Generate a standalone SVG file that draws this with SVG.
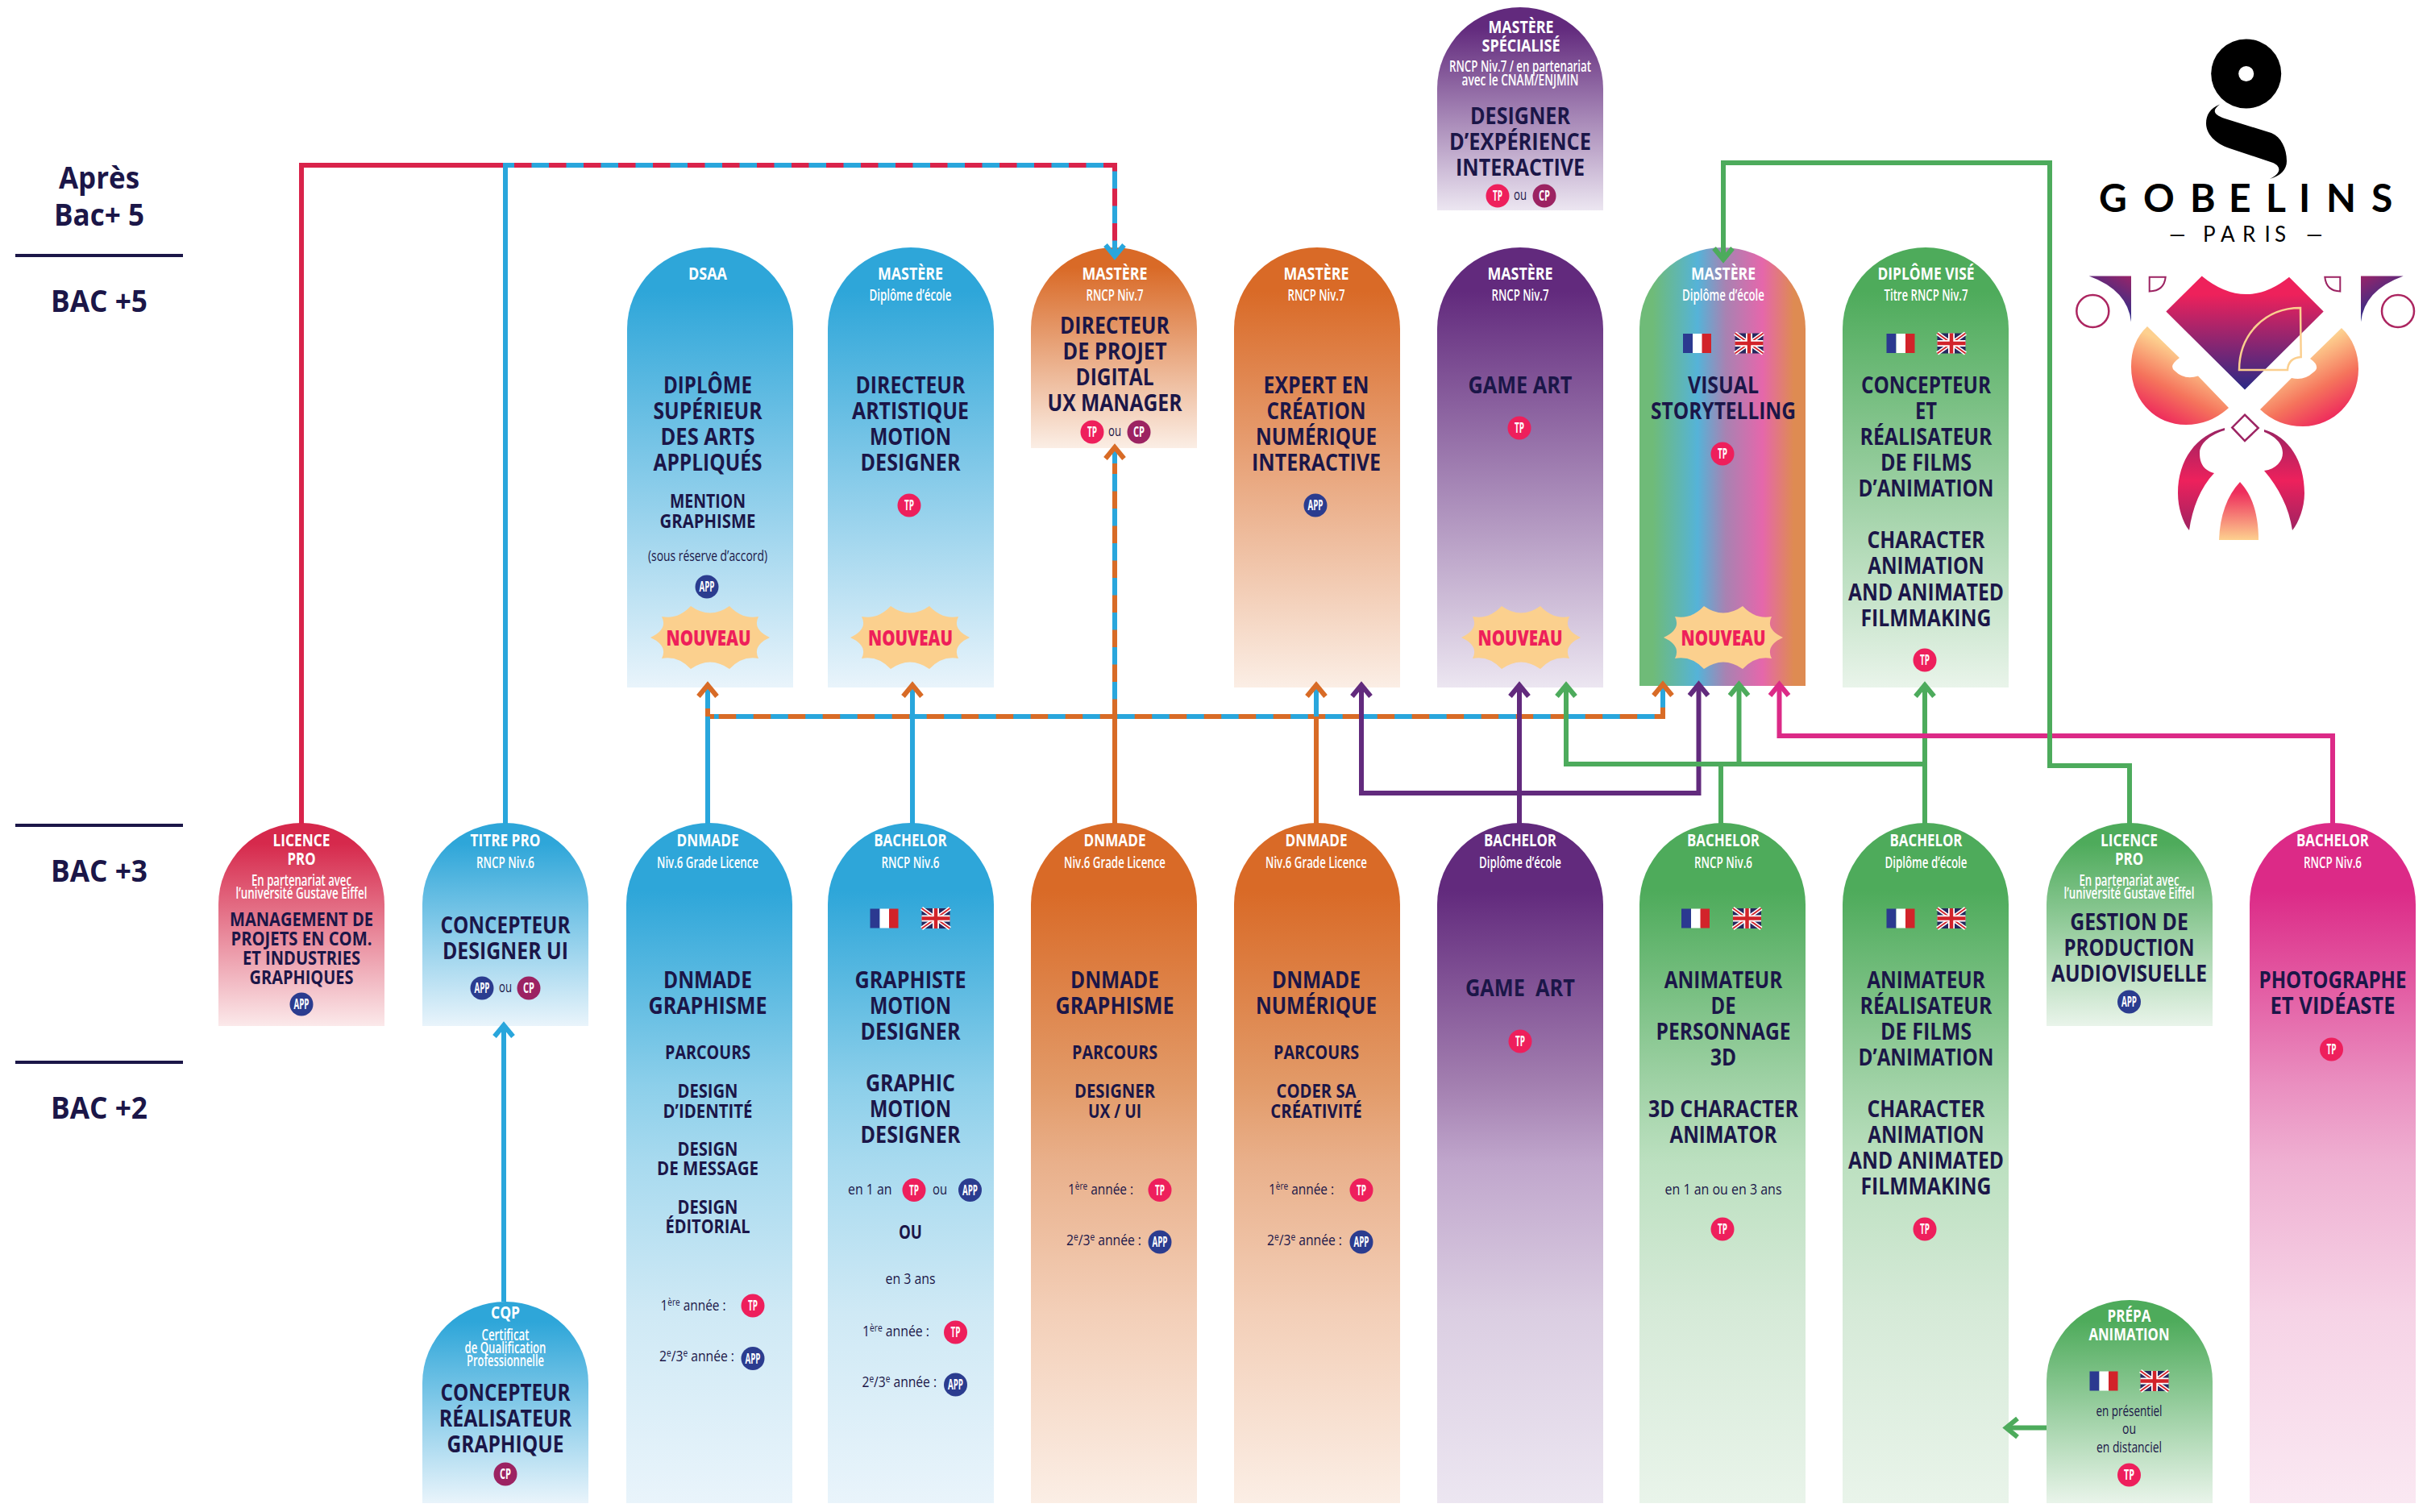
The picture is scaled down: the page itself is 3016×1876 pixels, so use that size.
<svg xmlns="http://www.w3.org/2000/svg" width="3016" height="1876" viewBox="0 0 3016 1876">
<style>
text{font-family:"Open Sans","Noto Sans","Liberation Sans",sans-serif;text-anchor:middle}
.l{font-size:37px;font-weight:700;fill:#1b1648}
.t{font-size:28px;font-weight:700;fill:#1b1648}
.s{font-size:23.5px;font-weight:700;fill:#1b1648}
.h{font-size:22px;font-weight:700;fill:#fff}
.u{font-size:19.5px;font-weight:600;fill:#fff}
.n{font-size:18.5px;font-weight:400;fill:#1b1648}
.st{text-anchor:start}
.bt{font-size:18px;font-weight:700;fill:#fff}
.nv{font-size:27px;font-weight:800;fill:#ee1f5a}
.tp{fill:#ee1f5c}.app{fill:#2b3c8f}.cp{fill:#9c2362}
.burst{fill:#fbd08e}
.cn path{fill:none;stroke-width:6}
.bl{stroke:#29a6dc}.rd{stroke:#d9234a}.or{stroke:#d86b26}.pu{stroke:#622a7d}.gr{stroke:#4dab5c}.pk{stroke:#dc2a87}
.d{stroke-dasharray:21.5 21.5}
</style>
<defs>
<linearGradient id="gBlue" x1="0" y1="0" x2="0" y2="1"><stop offset=".1" stop-color="#2ea6d9"/><stop offset="1" stop-color="#e9f4fb"/></linearGradient>
<linearGradient id="gOrange" x1="0" y1="0" x2="0" y2="1"><stop offset=".1" stop-color="#d96a27"/><stop offset="1" stop-color="#fbeee5"/></linearGradient>
<linearGradient id="gPurple" x1="0" y1="0" x2="0" y2="1"><stop offset=".1" stop-color="#622a7d"/><stop offset="1" stop-color="#ece6f1"/></linearGradient>
<linearGradient id="gGreen" x1="0" y1="0" x2="0" y2="1"><stop offset=".1" stop-color="#4eab5b"/><stop offset="1" stop-color="#e9f4ea"/></linearGradient>
<linearGradient id="gRed" x1="0" y1="0" x2="0" y2="1"><stop offset=".1" stop-color="#d6294c"/><stop offset="1" stop-color="#fbe9ea"/></linearGradient>
<linearGradient id="tBlue" x1="0" y1="0" x2="0" y2="1"><stop offset=".1" stop-color="#2ea6d9"/><stop offset=".385" stop-color="#8ccfea"/><stop offset=".5" stop-color="#a8daef"/><stop offset=".72" stop-color="#cfe9f5"/><stop offset="1" stop-color="#e9f4fb"/></linearGradient>
<linearGradient id="tOrange" x1="0" y1="0" x2="0" y2="1"><stop offset=".1" stop-color="#d96a27"/><stop offset=".385" stop-color="#e29a68"/><stop offset=".5" stop-color="#e9b08b"/><stop offset=".72" stop-color="#f3cfb8"/><stop offset="1" stop-color="#fbeee5"/></linearGradient>
<linearGradient id="tPurple" x1="0" y1="0" x2="0" y2="1"><stop offset=".1" stop-color="#622a7d"/><stop offset=".385" stop-color="#a37fb0"/><stop offset=".5" stop-color="#c0a6cc"/><stop offset=".72" stop-color="#dbcee2"/><stop offset="1" stop-color="#ece6f1"/></linearGradient>
<linearGradient id="tGreen" x1="0" y1="0" x2="0" y2="1"><stop offset=".1" stop-color="#4eab5b"/><stop offset=".385" stop-color="#a0d2a6"/><stop offset=".5" stop-color="#bce0c0"/><stop offset=".72" stop-color="#d6ead8"/><stop offset="1" stop-color="#e9f4ea"/></linearGradient>
<linearGradient id="tPink" x1="0" y1="0" x2="0" y2="1"><stop offset=".1" stop-color="#dc2a87"/><stop offset=".385" stop-color="#ea8fc0"/><stop offset=".5" stop-color="#efb0d2"/><stop offset=".72" stop-color="#f6d3e6"/><stop offset="1" stop-color="#fae8f2"/></linearGradient>
<linearGradient id="gRainbow" x1="0" y1="0" x2="1" y2="0"><stop offset=".08" stop-color="#6fbb78"/><stop offset=".35" stop-color="#55b3d8"/><stop offset=".52" stop-color="#a882b2"/><stop offset=".74" stop-color="#e567ab"/><stop offset=".93" stop-color="#de8b52"/></linearGradient>
<linearGradient id="eHeart" gradientUnits="userSpaceOnUse" x1="0" y1="365" x2="0" y2="483"><stop offset="0" stop-color="#ee215b"/><stop offset="1" stop-color="#2b2a86"/></linearGradient>
<linearGradient id="eCornerL" x1="1" y1="0" x2=".5" y2="1"><stop offset="0" stop-color="#9a2468"/><stop offset=".8" stop-color="#2b2f8c"/></linearGradient>
<linearGradient id="eCornerR" x1="0" y1="0" x2=".5" y2="1"><stop offset="0" stop-color="#9a2468"/><stop offset=".8" stop-color="#2b2f8c"/></linearGradient>
<linearGradient id="eFanL" gradientUnits="userSpaceOnUse" x1="2682" y1="520" x2="2722" y2="445"><stop offset="0" stop-color="#ee2d5c"/><stop offset=".45" stop-color="#f5745c"/><stop offset="1" stop-color="#fdd08f"/></linearGradient>
<linearGradient id="eFanR" gradientUnits="userSpaceOnUse" x1="2890" y1="520" x2="2846" y2="445"><stop offset="0" stop-color="#ee2d5c"/><stop offset=".45" stop-color="#f5745c"/><stop offset="1" stop-color="#fdd08f"/></linearGradient>
<linearGradient id="eCres" gradientUnits="userSpaceOnUse" x1="0" y1="533" x2="0" y2="660"><stop offset="0" stop-color="#9c2362"/><stop offset=".5" stop-color="#ed215c"/><stop offset="1" stop-color="#9c2362"/></linearGradient>
<linearGradient id="eFlame" gradientUnits="userSpaceOnUse" x1="0" y1="610" x2="0" y2="670"><stop offset="0" stop-color="#ee2d5c"/><stop offset="1" stop-color="#fdd08f"/></linearGradient>
<path id="burst" class="burst" d="M74,0Q52,-10 60,-26Q40,-22 24,-39Q0,-22 -24,-39Q-40,-22 -60,-26Q-52,-10 -74,0Q-52,10 -60,26Q-40,22 -24,39Q0,22 24,39Q40,22 60,26Q52,10 74,0Z"/>
<g id="fr"><rect x="-17.5" y="-12" width="12" height="24" fill="#2b3990"/><rect x="-5.5" y="-12" width="12" height="24" fill="#fff"/><rect x="6" y="-12" width="11.5" height="24" fill="#d2232a"/></g>
<g id="uk"><rect x="-17.5" y="-12.5" width="35" height="25" fill="#27285f"/><path d="M-17.5,-12.5L17.5,12.5M17.5,-12.5L-17.5,12.5" stroke="#fff" stroke-width="5"/><path d="M-17.5,-12.5L17.5,12.5M17.5,-12.5L-17.5,12.5" stroke="#d2232a" stroke-width="1.8"/><path d="M0,-12.5V12.5M-17.5,0H17.5" stroke="#fff" stroke-width="8"/><path d="M0,-12.5V12.5M-17.5,0H17.5" stroke="#d2232a" stroke-width="4.5"/></g>
<marker id="mBl" markerUnits="userSpaceOnUse" orient="auto" overflow="visible" markerWidth="30" markerHeight="30" refX="0" refY="0"><path d="M-14,-11.5L0,0L-14,11.5" fill="none" stroke="#29a6dc" stroke-width="6"/></marker>
<marker id="mOr" markerUnits="userSpaceOnUse" orient="auto" overflow="visible" markerWidth="30" markerHeight="30" refX="0" refY="0"><path d="M-14,-11.5L0,0L-14,11.5" fill="none" stroke="#d86b26" stroke-width="6"/></marker>
<marker id="mPu" markerUnits="userSpaceOnUse" orient="auto" overflow="visible" markerWidth="30" markerHeight="30" refX="0" refY="0"><path d="M-14,-11.5L0,0L-14,11.5" fill="none" stroke="#622a7d" stroke-width="6"/></marker>
<marker id="mGr" markerUnits="userSpaceOnUse" orient="auto" overflow="visible" markerWidth="30" markerHeight="30" refX="0" refY="0"><path d="M-14,-11.5L0,0L-14,11.5" fill="none" stroke="#4dab5c" stroke-width="6"/></marker>
<marker id="mPk" markerUnits="userSpaceOnUse" orient="auto" overflow="visible" markerWidth="30" markerHeight="30" refX="0" refY="0"><path d="M-14,-11.5L0,0L-14,11.5" fill="none" stroke="#dc2a87" stroke-width="6"/></marker>
</defs>
<rect width="3016" height="1876" fill="#fff"/>

<g id="levels">
<text class="l" x="123" y="234" textLength="100" lengthAdjust="spacingAndGlyphs">Après</text>
<text class="l" x="123" y="280" textLength="112" lengthAdjust="spacingAndGlyphs">Bac+ 5</text>
<text class="l" x="123" y="387" textLength="120" lengthAdjust="spacingAndGlyphs">BAC +5</text>
<text class="l" x="123" y="1094" textLength="120" lengthAdjust="spacingAndGlyphs">BAC +3</text>
<text class="l" x="123" y="1388" textLength="120" lengthAdjust="spacingAndGlyphs">BAC +2</text>
<path d="M19,317H227M19,1024H227M19,1318H227" stroke="#1b1648" stroke-width="4" fill="none"/>
</g>

<g id="n-dsaa">
<path d="M778,853V408A103,101 0 0 1 984,408V853Z" fill="url(#gBlue)"/>
<text class="h" x="878" y="347" textLength="48" lengthAdjust="spacingAndGlyphs">DSAA</text>
<text class="t" x="878" y="488" textLength="110" lengthAdjust="spacingAndGlyphs">DIPLÔME</text>
<text class="t" x="878" y="520" textLength="135" lengthAdjust="spacingAndGlyphs">SUPÉRIEUR</text>
<text class="t" x="878" y="552" textLength="117" lengthAdjust="spacingAndGlyphs">DES ARTS</text>
<text class="t" x="878" y="584" textLength="135" lengthAdjust="spacingAndGlyphs">APPLIQUÉS</text>
<text class="s" x="878" y="630" textLength="94" lengthAdjust="spacingAndGlyphs">MENTION</text>
<text class="s" x="878" y="655" textLength="119" lengthAdjust="spacingAndGlyphs">GRAPHISME</text>
<text class="n" x="878" y="696" textLength="148" lengthAdjust="spacingAndGlyphs">(sous réserve d’accord)</text>
<circle class="app" cx="877" cy="728" r="14.5"/><text class="bt" x="877" y="734" textLength="19" lengthAdjust="spacingAndGlyphs">APP</text>
<use href="#burst" x="881" y="791"/>
<text class="nv" x="879" y="801" textLength="105" lengthAdjust="spacingAndGlyphs">NOUVEAU</text>
</g>

<g id="n-master-motion">
<path d="M1027,853V408A103,101 0 0 1 1233,408V853Z" fill="url(#gBlue)"/>
<text class="h" x="1129.500" y="347" textLength="81" lengthAdjust="spacingAndGlyphs">MASTÈRE</text>
<text class="u" x="1129.500" y="373" textLength="102" lengthAdjust="spacingAndGlyphs">Diplôme d’école</text>
<text class="t" x="1129.500" y="488" textLength="136" lengthAdjust="spacingAndGlyphs">DIRECTEUR</text>
<text class="t" x="1129.500" y="520" textLength="145" lengthAdjust="spacingAndGlyphs">ARTISTIQUE</text>
<text class="t" x="1129.500" y="552" textLength="101" lengthAdjust="spacingAndGlyphs">MOTION</text>
<text class="t" x="1129.500" y="584" textLength="124" lengthAdjust="spacingAndGlyphs">DESIGNER</text>
<circle class="tp" cx="1128" cy="627" r="14.5"/><text class="bt" x="1128" y="633" textLength="12" lengthAdjust="spacingAndGlyphs">TP</text>
<use href="#burst" x="1129" y="791"/>
<text class="nv" x="1129.500" y="801" textLength="105" lengthAdjust="spacingAndGlyphs">NOUVEAU</text>
</g>

<g id="n-master-ux">
<path d="M1279,556V408A103,101 0 0 1 1485,408V556Z" fill="url(#gOrange)"/>
<text class="h" x="1383" y="347" textLength="81" lengthAdjust="spacingAndGlyphs">MASTÈRE</text>
<text class="u" x="1383" y="373" textLength="71" lengthAdjust="spacingAndGlyphs">RNCP Niv.7</text>
<text class="t" x="1383" y="414" textLength="136" lengthAdjust="spacingAndGlyphs">DIRECTEUR</text>
<text class="t" x="1383" y="446" textLength="129" lengthAdjust="spacingAndGlyphs">DE PROJET</text>
<text class="t" x="1383" y="478" textLength="97" lengthAdjust="spacingAndGlyphs">DIGITAL</text>
<text class="t" x="1383" y="510" textLength="167" lengthAdjust="spacingAndGlyphs">UX MANAGER</text>
<circle class="tp" cx="1355" cy="536" r="14.5"/><text class="bt" x="1355" y="542" textLength="12" lengthAdjust="spacingAndGlyphs">TP</text>
<text class="n" x="1383" y="541" textLength="16" lengthAdjust="spacingAndGlyphs">ou</text>
<circle class="cp" cx="1413" cy="536" r="14.500"/><text class="bt" x="1413" y="542" textLength="14" lengthAdjust="spacingAndGlyphs">CP</text>
</g>

<g id="n-master-cni">
<path d="M1531,853V408A103,101 0 0 1 1737,408V853Z" fill="url(#gOrange)"/>
<text class="h" x="1633" y="347" textLength="81" lengthAdjust="spacingAndGlyphs">MASTÈRE</text>
<text class="u" x="1633" y="373" textLength="71" lengthAdjust="spacingAndGlyphs">RNCP Niv.7</text>
<text class="t" x="1633" y="488" textLength="131" lengthAdjust="spacingAndGlyphs">EXPERT EN</text>
<text class="t" x="1633" y="520" textLength="123" lengthAdjust="spacingAndGlyphs">CRÉATION</text>
<text class="t" x="1633" y="552" textLength="150" lengthAdjust="spacingAndGlyphs">NUMÉRIQUE</text>
<text class="t" x="1633" y="584" textLength="160" lengthAdjust="spacingAndGlyphs">INTERACTIVE</text>
<circle class="app" cx="1632" cy="627" r="14.5"/><text class="bt" x="1632" y="633" textLength="19" lengthAdjust="spacingAndGlyphs">APP</text>
</g>

<g id="n-master-specialise">
<path d="M1783,261V110A103,101 0 0 1 1989,110V261Z" fill="url(#gPurple)"/>
<text class="h" x="1887" y="41" textLength="81" lengthAdjust="spacingAndGlyphs">MASTÈRE</text>
<text class="h" x="1887" y="64" textLength="97" lengthAdjust="spacingAndGlyphs">SPÉCIALISÉ</text>
<text class="u" x="1886" y="89" textLength="176" lengthAdjust="spacingAndGlyphs">RNCP Niv.7 / en partenariat</text>
<text class="u" x="1886" y="105.500" textLength="145" lengthAdjust="spacingAndGlyphs">avec le CNAM/ENJMIN</text>
<text class="t" x="1886" y="154" textLength="124" lengthAdjust="spacingAndGlyphs">DESIGNER</text>
<text class="t" x="1886" y="186" textLength="176" lengthAdjust="spacingAndGlyphs">D’EXPÉRIENCE</text>
<text class="t" x="1886" y="218" textLength="160" lengthAdjust="spacingAndGlyphs">INTERACTIVE</text>
<circle class="tp" cx="1858" cy="243" r="14.5"/><text class="bt" x="1858" y="249" textLength="12" lengthAdjust="spacingAndGlyphs">TP</text>
<text class="n" x="1886" y="248" textLength="16" lengthAdjust="spacingAndGlyphs">ou</text>
<circle class="cp" cx="1916" cy="243" r="14.5"/><text class="bt" x="1916" y="249" textLength="14" lengthAdjust="spacingAndGlyphs">CP</text>
</g>

<g id="n-master-gameart">
<path d="M1783,853V408A103,101 0 0 1 1989,408V853Z" fill="url(#gPurple)"/>
<text class="h" x="1886" y="347" textLength="81" lengthAdjust="spacingAndGlyphs">MASTÈRE</text>
<text class="u" x="1886" y="373" textLength="71" lengthAdjust="spacingAndGlyphs">RNCP Niv.7</text>
<text class="t" x="1886" y="488" textLength="129" lengthAdjust="spacingAndGlyphs">GAME ART</text>
<circle class="tp" cx="1885" cy="531" r="14.5"/><text class="bt" x="1885" y="537" textLength="12" lengthAdjust="spacingAndGlyphs">TP</text>
<use href="#burst" x="1887" y="791"/>
<text class="nv" x="1886" y="801" textLength="105" lengthAdjust="spacingAndGlyphs">NOUVEAU</text>
</g>

<g id="n-master-visual">
<path d="M2034,851V408A103,101 0 0 1 2240,408V851Z" fill="url(#gRainbow)"/>
<text class="h" x="2138" y="347" textLength="80" lengthAdjust="spacingAndGlyphs">MASTÈRE</text>
<text class="u" x="2138" y="373" textLength="102" lengthAdjust="spacingAndGlyphs">Diplôme d’école</text>
<use href="#fr" x="2105.500" y="426"/><use href="#uk" x="2170" y="426"/>
<text class="t" x="2138" y="488" textLength="88" lengthAdjust="spacingAndGlyphs">VISUAL</text>
<text class="t" x="2138" y="520" textLength="180" lengthAdjust="spacingAndGlyphs">STORYTELLING</text>
<circle class="tp" cx="2137" cy="563" r="14.5"/><text class="bt" x="2137" y="569" textLength="12" lengthAdjust="spacingAndGlyphs">TP</text>
<use href="#burst" x="2138" y="791"/>
<text class="nv" x="2138" y="801" textLength="105" lengthAdjust="spacingAndGlyphs">NOUVEAU</text>
</g>

<g id="n-diplome-vise">
<path d="M2286,853V408A103,101 0 0 1 2492,408V853Z" fill="url(#gGreen)"/>
<text class="h" x="2389.500" y="347" textLength="120" lengthAdjust="spacingAndGlyphs">DIPLÔME VISÉ</text>
<text class="u" x="2389.500" y="373" textLength="104" lengthAdjust="spacingAndGlyphs">Titre RNCP Niv.7</text>
<use href="#fr" x="2358" y="426"/><use href="#uk" x="2421" y="426"/>
<text class="t" x="2389.500" y="488" textLength="161" lengthAdjust="spacingAndGlyphs">CONCEPTEUR</text>
<text class="t" x="2389.500" y="520" textLength="27" lengthAdjust="spacingAndGlyphs">ET</text>
<text class="t" x="2389.500" y="552" textLength="164" lengthAdjust="spacingAndGlyphs">RÉALISATEUR</text>
<text class="t" x="2389.500" y="584" textLength="113" lengthAdjust="spacingAndGlyphs">DE FILMS</text>
<text class="t" x="2389.500" y="616" textLength="168" lengthAdjust="spacingAndGlyphs">D’ANIMATION</text>
<text class="t" x="2389.500" y="680" textLength="146" lengthAdjust="spacingAndGlyphs">CHARACTER</text>
<text class="t" x="2389.500" y="712" textLength="144.500" lengthAdjust="spacingAndGlyphs">ANIMATION</text>
<text class="t" x="2389.500" y="745" textLength="193" lengthAdjust="spacingAndGlyphs">AND ANIMATED</text>
<text class="t" x="2389.500" y="777" textLength="162" lengthAdjust="spacingAndGlyphs">FILMMAKING</text>
<circle class="tp" cx="2388" cy="819" r="14.5"/><text class="bt" x="2388" y="825" textLength="12" lengthAdjust="spacingAndGlyphs">TP</text>
</g>

<g id="n-licence-red">
<path d="M271,1273V1122A103,101 0 0 1 477,1122V1273Z" fill="url(#gRed)"/>
<text class="h" x="374" y="1050" textLength="71" lengthAdjust="spacingAndGlyphs">LICENCE</text>
<text class="h" x="374" y="1073" textLength="35" lengthAdjust="spacingAndGlyphs">PRO</text>
<text class="u" x="374" y="1099" textLength="124" lengthAdjust="spacingAndGlyphs">En partenariat avec</text>
<text class="u" x="374" y="1115" textLength="163" lengthAdjust="spacingAndGlyphs">l’université Gustave Eiffel</text>
<text class="s" x="374" y="1148.500" textLength="178" lengthAdjust="spacingAndGlyphs">MANAGEMENT DE</text>
<text class="s" x="374" y="1172.500" textLength="175" lengthAdjust="spacingAndGlyphs">PROJETS EN COM.</text>
<text class="s" x="374" y="1196.500" textLength="146" lengthAdjust="spacingAndGlyphs">ET INDUSTRIES</text>
<text class="s" x="374" y="1220.500" textLength="129" lengthAdjust="spacingAndGlyphs">GRAPHIQUES</text>
<circle class="app" cx="374" cy="1246" r="14.5"/><text class="bt" x="374" y="1252" textLength="19" lengthAdjust="spacingAndGlyphs">APP</text>
</g>

<g id="n-titre-pro">
<path d="M524,1273V1122A103,101 0 0 1 730,1122V1273Z" fill="url(#gBlue)"/>
<text class="h" x="627" y="1050" textLength="87" lengthAdjust="spacingAndGlyphs">TITRE PRO</text>
<text class="u" x="627" y="1076.500" textLength="72" lengthAdjust="spacingAndGlyphs">RNCP Niv.6</text>
<text class="t" x="627" y="1158" textLength="161" lengthAdjust="spacingAndGlyphs">CONCEPTEUR</text>
<text class="t" x="627" y="1190" textLength="156" lengthAdjust="spacingAndGlyphs">DESIGNER UI</text>
<circle class="app" cx="598" cy="1226" r="14.5"/><text class="bt" x="598" y="1232" textLength="19" lengthAdjust="spacingAndGlyphs">APP</text>
<text class="n" x="627" y="1231" textLength="16" lengthAdjust="spacingAndGlyphs">ou</text>
<circle class="cp" cx="656" cy="1226" r="14.5"/><text class="bt" x="656" y="1232" textLength="14" lengthAdjust="spacingAndGlyphs">CP</text>
</g>

<g id="n-cqp">
<path d="M524,1865V1716A103,101 0 0 1 730,1716V1865Z" fill="url(#gBlue)"/>
<text class="h" x="627" y="1636" textLength="36" lengthAdjust="spacingAndGlyphs">CQP</text>
<text class="u" x="627" y="1662.500" textLength="59" lengthAdjust="spacingAndGlyphs">Certificat</text>
<text class="u" x="627" y="1678.500" textLength="101" lengthAdjust="spacingAndGlyphs">de Qualification</text>
<text class="u" x="627" y="1694.500" textLength="96" lengthAdjust="spacingAndGlyphs">Professionnelle</text>
<text class="t" x="627" y="1737.500" textLength="161" lengthAdjust="spacingAndGlyphs">CONCEPTEUR</text>
<text class="t" x="627" y="1770" textLength="164.500" lengthAdjust="spacingAndGlyphs">RÉALISATEUR</text>
<text class="t" x="627" y="1802" textLength="145" lengthAdjust="spacingAndGlyphs">GRAPHIQUE</text>
<circle class="cp" cx="627" cy="1829" r="14.5"/><text class="bt" x="627" y="1835" textLength="14" lengthAdjust="spacingAndGlyphs">CP</text>
</g>

<g id="n-dnmade-graphisme">
<path d="M777,1865V1122A103,101 0 0 1 983,1122V1865Z" fill="url(#tBlue)"/>
<text class="h" x="878" y="1050" textLength="77" lengthAdjust="spacingAndGlyphs">DNMADE</text>
<text class="u" x="878" y="1076.500" textLength="126" lengthAdjust="spacingAndGlyphs">Niv.6 Grade Licence</text>
<text class="t" x="878" y="1226" textLength="110" lengthAdjust="spacingAndGlyphs">DNMADE</text>
<text class="t" x="878" y="1258" textLength="147" lengthAdjust="spacingAndGlyphs">GRAPHISME</text>
<text class="s" x="878" y="1313.500" textLength="106" lengthAdjust="spacingAndGlyphs">PARCOURS</text>
<text class="s" x="878" y="1362" textLength="75" lengthAdjust="spacingAndGlyphs">DESIGN</text>
<text class="s" x="878" y="1386.500" textLength="111" lengthAdjust="spacingAndGlyphs">D’IDENTITÉ</text>
<text class="s" x="878" y="1434" textLength="75" lengthAdjust="spacingAndGlyphs">DESIGN</text>
<text class="s" x="878" y="1458" textLength="126" lengthAdjust="spacingAndGlyphs">DE MESSAGE</text>
<text class="s" x="878" y="1505.500" textLength="75" lengthAdjust="spacingAndGlyphs">DESIGN</text>
<text class="s" x="878" y="1529.500" textLength="105" lengthAdjust="spacingAndGlyphs">ÉDITORIAL</text>
<text class="n st" x="819.500" y="1625.500" textLength="81" lengthAdjust="spacingAndGlyphs">1<tspan font-size="12" dy="-6">ère</tspan><tspan dy="6"> année :</tspan></text>
<circle class="tp" cx="934" cy="1620" r="14.5"/><text class="bt" x="934" y="1626" textLength="12" lengthAdjust="spacingAndGlyphs">TP</text>
<text class="n st" x="818" y="1689" textLength="93" lengthAdjust="spacingAndGlyphs">2<tspan font-size="12" dy="-6">e</tspan><tspan dy="6">/3</tspan><tspan font-size="12" dy="-6">e</tspan><tspan dy="6"> année :</tspan></text>
<circle class="app" cx="934" cy="1685.500" r="14.5"/><text class="bt" x="934" y="1691.500" textLength="19" lengthAdjust="spacingAndGlyphs">APP</text>
</g>

<g id="n-bachelor-motion">
<path d="M1027,1865V1122A103,101 0 0 1 1233,1122V1865Z" fill="url(#tBlue)"/>
<text class="h" x="1129.500" y="1050" textLength="90.500" lengthAdjust="spacingAndGlyphs">BACHELOR</text>
<text class="u" x="1129.500" y="1076.500" textLength="72" lengthAdjust="spacingAndGlyphs">RNCP Niv.6</text>
<use href="#fr" x="1097" y="1139.500"/><use href="#uk" x="1161" y="1139.500"/>
<text class="t" x="1129.500" y="1226" textLength="138" lengthAdjust="spacingAndGlyphs">GRAPHISTE</text>
<text class="t" x="1129.500" y="1258" textLength="101" lengthAdjust="spacingAndGlyphs">MOTION</text>
<text class="t" x="1129.500" y="1290" textLength="124" lengthAdjust="spacingAndGlyphs">DESIGNER</text>
<text class="t" x="1129.500" y="1354" textLength="111" lengthAdjust="spacingAndGlyphs">GRAPHIC</text>
<text class="t" x="1129.500" y="1386" textLength="101" lengthAdjust="spacingAndGlyphs">MOTION</text>
<text class="t" x="1129.500" y="1418" textLength="124" lengthAdjust="spacingAndGlyphs">DESIGNER</text>
<text class="n st" x="1052" y="1481.500" textLength="54.500" lengthAdjust="spacingAndGlyphs">en 1 an</text>
<circle class="tp" cx="1134" cy="1476.500" r="14.5"/><text class="bt" x="1134" y="1482.500" textLength="12" lengthAdjust="spacingAndGlyphs">TP</text>
<text class="n" x="1166" y="1481.500" textLength="18" lengthAdjust="spacingAndGlyphs">ou</text>
<circle class="app" cx="1203.500" cy="1476.500" r="14.5"/><text class="bt" x="1203.500" y="1482.500" textLength="19" lengthAdjust="spacingAndGlyphs">APP</text>
<text class="s" x="1129.500" y="1537" textLength="29" lengthAdjust="spacingAndGlyphs">OU</text>
<text class="n" x="1129.500" y="1593" textLength="62" lengthAdjust="spacingAndGlyphs">en 3 ans</text>
<text class="n st" x="1070" y="1657.500" textLength="83" lengthAdjust="spacingAndGlyphs">1<tspan font-size="12" dy="-6">ère</tspan><tspan dy="6"> année :</tspan></text>
<circle class="tp" cx="1185.500" cy="1653" r="14.5"/><text class="bt" x="1185.500" y="1659" textLength="12" lengthAdjust="spacingAndGlyphs">TP</text>
<text class="n st" x="1069.500" y="1721" textLength="92.500" lengthAdjust="spacingAndGlyphs">2<tspan font-size="12" dy="-6">e</tspan><tspan dy="6">/3</tspan><tspan font-size="12" dy="-6">e</tspan><tspan dy="6"> année :</tspan></text>
<circle class="app" cx="1185.500" cy="1718" r="14.5"/><text class="bt" x="1185.500" y="1724" textLength="19" lengthAdjust="spacingAndGlyphs">APP</text>
</g>

<g id="n-dnmade-ux">
<path d="M1279,1865V1122A103,101 0 0 1 1485,1122V1865Z" fill="url(#tOrange)"/>
<text class="h" x="1383" y="1050" textLength="77" lengthAdjust="spacingAndGlyphs">DNMADE</text>
<text class="u" x="1383" y="1076.500" textLength="126" lengthAdjust="spacingAndGlyphs">Niv.6 Grade Licence</text>
<text class="t" x="1383" y="1226" textLength="110" lengthAdjust="spacingAndGlyphs">DNMADE</text>
<text class="t" x="1383" y="1258" textLength="147" lengthAdjust="spacingAndGlyphs">GRAPHISME</text>
<text class="s" x="1383" y="1313.500" textLength="106" lengthAdjust="spacingAndGlyphs">PARCOURS</text>
<text class="s" x="1383" y="1362" textLength="100" lengthAdjust="spacingAndGlyphs">DESIGNER</text>
<text class="s" x="1383" y="1386.500" textLength="66" lengthAdjust="spacingAndGlyphs">UX / UI</text>
<text class="n st" x="1325" y="1481.500" textLength="81" lengthAdjust="spacingAndGlyphs">1<tspan font-size="12" dy="-6">ère</tspan><tspan dy="6"> année :</tspan></text>
<circle class="tp" cx="1439" cy="1476.500" r="14.5"/><text class="bt" x="1439" y="1482.500" textLength="12" lengthAdjust="spacingAndGlyphs">TP</text>
<text class="n st" x="1323" y="1545" textLength="93" lengthAdjust="spacingAndGlyphs">2<tspan font-size="12" dy="-6">e</tspan><tspan dy="6">/3</tspan><tspan font-size="12" dy="-6">e</tspan><tspan dy="6"> année :</tspan></text>
<circle class="app" cx="1439" cy="1541" r="14.5"/><text class="bt" x="1439" y="1547" textLength="19" lengthAdjust="spacingAndGlyphs">APP</text>
</g>

<g id="n-dnmade-numerique">
<path d="M1531,1865V1122A103,101 0 0 1 1737,1122V1865Z" fill="url(#tOrange)"/>
<text class="h" x="1633" y="1050" textLength="77" lengthAdjust="spacingAndGlyphs">DNMADE</text>
<text class="u" x="1633" y="1076.500" textLength="126" lengthAdjust="spacingAndGlyphs">Niv.6 Grade Licence</text>
<text class="t" x="1633" y="1226" textLength="110" lengthAdjust="spacingAndGlyphs">DNMADE</text>
<text class="t" x="1633" y="1258" textLength="150" lengthAdjust="spacingAndGlyphs">NUMÉRIQUE</text>
<text class="s" x="1633" y="1313.500" textLength="106" lengthAdjust="spacingAndGlyphs">PARCOURS</text>
<text class="s" x="1633" y="1362" textLength="99" lengthAdjust="spacingAndGlyphs">CODER SA</text>
<text class="s" x="1633" y="1386.500" textLength="113.500" lengthAdjust="spacingAndGlyphs">CRÉATIVITÉ</text>
<text class="n st" x="1574" y="1481.500" textLength="81" lengthAdjust="spacingAndGlyphs">1<tspan font-size="12" dy="-6">ère</tspan><tspan dy="6"> année :</tspan></text>
<circle class="tp" cx="1689" cy="1476.500" r="14.5"/><text class="bt" x="1689" y="1482.500" textLength="12" lengthAdjust="spacingAndGlyphs">TP</text>
<text class="n st" x="1572" y="1545" textLength="93" lengthAdjust="spacingAndGlyphs">2<tspan font-size="12" dy="-6">e</tspan><tspan dy="6">/3</tspan><tspan font-size="12" dy="-6">e</tspan><tspan dy="6"> année :</tspan></text>
<circle class="app" cx="1689" cy="1541" r="14.5"/><text class="bt" x="1689" y="1547" textLength="19" lengthAdjust="spacingAndGlyphs">APP</text>
</g>

<g id="n-bachelor-gameart">
<path d="M1783,1865V1122A103,101 0 0 1 1989,1122V1865Z" fill="url(#tPurple)"/>
<text class="h" x="1886" y="1050" textLength="90" lengthAdjust="spacingAndGlyphs">BACHELOR</text>
<text class="u" x="1886" y="1076.500" textLength="102" lengthAdjust="spacingAndGlyphs">Diplôme d’école</text>
<text class="t" x="1886" y="1236" textLength="136" lengthAdjust="spacingAndGlyphs" xml:space="preserve">GAME  ART</text>
<circle class="tp" cx="1886" cy="1292" r="14.5"/><text class="bt" x="1886" y="1298" textLength="12" lengthAdjust="spacingAndGlyphs">TP</text>
</g>

<g id="n-bachelor-3d">
<path d="M2034,1865V1122A103,101 0 0 1 2240,1122V1865Z" fill="url(#tGreen)"/>
<text class="h" x="2138" y="1050" textLength="90" lengthAdjust="spacingAndGlyphs">BACHELOR</text>
<text class="u" x="2138" y="1076.500" textLength="72" lengthAdjust="spacingAndGlyphs">RNCP Niv.6</text>
<use href="#fr" x="2103.500" y="1139.500"/><use href="#uk" x="2167.500" y="1139.500"/>
<text class="t" x="2138" y="1226" textLength="146.500" lengthAdjust="spacingAndGlyphs">ANIMATEUR</text>
<text class="t" x="2138" y="1258" textLength="31" lengthAdjust="spacingAndGlyphs">DE</text>
<text class="t" x="2138" y="1290" textLength="167" lengthAdjust="spacingAndGlyphs">PERSONNAGE</text>
<text class="t" x="2138" y="1322" textLength="32" lengthAdjust="spacingAndGlyphs">3D</text>
<text class="t" x="2138" y="1386" textLength="186" lengthAdjust="spacingAndGlyphs">3D CHARACTER</text>
<text class="t" x="2138" y="1418" textLength="133" lengthAdjust="spacingAndGlyphs">ANIMATOR</text>
<text class="n" x="2138" y="1481.500" textLength="145" lengthAdjust="spacingAndGlyphs">en 1 an ou en 3 ans</text>
<circle class="tp" cx="2137" cy="1525" r="14.5"/><text class="bt" x="2137" y="1531" textLength="12" lengthAdjust="spacingAndGlyphs">TP</text>
</g>

<g id="n-bachelor-film">
<path d="M2286,1865V1122A103,101 0 0 1 2492,1122V1865Z" fill="url(#tGreen)"/>
<text class="h" x="2389.500" y="1050" textLength="90" lengthAdjust="spacingAndGlyphs">BACHELOR</text>
<text class="u" x="2389.500" y="1076.500" textLength="102" lengthAdjust="spacingAndGlyphs">Diplôme d’école</text>
<use href="#fr" x="2358" y="1139.500"/><use href="#uk" x="2421" y="1139.500"/>
<text class="t" x="2389.500" y="1226" textLength="146.500" lengthAdjust="spacingAndGlyphs">ANIMATEUR</text>
<text class="t" x="2389.500" y="1258" textLength="164" lengthAdjust="spacingAndGlyphs">RÉALISATEUR</text>
<text class="t" x="2389.500" y="1290" textLength="113" lengthAdjust="spacingAndGlyphs">DE FILMS</text>
<text class="t" x="2389.500" y="1322" textLength="168" lengthAdjust="spacingAndGlyphs">D’ANIMATION</text>
<text class="t" x="2389.500" y="1386" textLength="146" lengthAdjust="spacingAndGlyphs">CHARACTER</text>
<text class="t" x="2389.500" y="1418" textLength="144.500" lengthAdjust="spacingAndGlyphs">ANIMATION</text>
<text class="t" x="2389.500" y="1450" textLength="193" lengthAdjust="spacingAndGlyphs">AND ANIMATED</text>
<text class="t" x="2389.500" y="1482" textLength="162" lengthAdjust="spacingAndGlyphs">FILMMAKING</text>
<circle class="tp" cx="2388" cy="1525" r="14.5"/><text class="bt" x="2388" y="1531" textLength="12" lengthAdjust="spacingAndGlyphs">TP</text>
</g>

<g id="n-licence-green">
<path d="M2539,1273V1122A103,101 0 0 1 2745,1122V1273Z" fill="url(#gGreen)"/>
<text class="h" x="2641.500" y="1050" textLength="71" lengthAdjust="spacingAndGlyphs">LICENCE</text>
<text class="h" x="2641.500" y="1073" textLength="35" lengthAdjust="spacingAndGlyphs">PRO</text>
<text class="u" x="2641.500" y="1099" textLength="124" lengthAdjust="spacingAndGlyphs">En partenariat avec</text>
<text class="u" x="2641.500" y="1115" textLength="162" lengthAdjust="spacingAndGlyphs">l’université Gustave Eiffel</text>
<text class="t" x="2641.500" y="1154" textLength="146.500" lengthAdjust="spacingAndGlyphs">GESTION DE</text>
<text class="t" x="2641.500" y="1186" textLength="162" lengthAdjust="spacingAndGlyphs">PRODUCTION</text>
<text class="t" x="2641.500" y="1218" textLength="193" lengthAdjust="spacingAndGlyphs">AUDIOVISUELLE</text>
<circle class="app" cx="2641.500" cy="1243" r="14.5"/><text class="bt" x="2641.500" y="1249" textLength="19" lengthAdjust="spacingAndGlyphs">APP</text>
</g>

<g id="n-prepa">
<path d="M2539,1865V1714A103,101 0 0 1 2745,1714V1865Z" fill="url(#gGreen)"/>
<text class="h" x="2641.500" y="1640" textLength="54" lengthAdjust="spacingAndGlyphs">PRÉPA</text>
<text class="h" x="2641.500" y="1663" textLength="100" lengthAdjust="spacingAndGlyphs">ANIMATION</text>
<use href="#fr" x="2610" y="1713.500"/><use href="#uk" x="2673" y="1713.500"/>
<text class="n" x="2641.500" y="1757" textLength="82" lengthAdjust="spacingAndGlyphs">en présentiel</text>
<text class="n" x="2641.500" y="1779" textLength="17" lengthAdjust="spacingAndGlyphs">ou</text>
<text class="n" x="2641.500" y="1802" textLength="81" lengthAdjust="spacingAndGlyphs">en distanciel</text>
<circle class="tp" cx="2641.500" cy="1830" r="14.5"/><text class="bt" x="2641.500" y="1836" textLength="13" lengthAdjust="spacingAndGlyphs">TP</text>
</g>

<g id="n-bachelor-photo">
<path d="M2791,1865V1122A103,101 0 0 1 2997,1122V1865Z" fill="url(#tPink)"/>
<text class="h" x="2894" y="1050" textLength="90" lengthAdjust="spacingAndGlyphs">BACHELOR</text>
<text class="u" x="2894" y="1076.500" textLength="72" lengthAdjust="spacingAndGlyphs">RNCP Niv.6</text>
<text class="t" x="2894" y="1226" textLength="183" lengthAdjust="spacingAndGlyphs">PHOTOGRAPHE</text>
<text class="t" x="2894" y="1258" textLength="155" lengthAdjust="spacingAndGlyphs">ET VIDÉASTE</text>
<circle class="tp" cx="2892.500" cy="1302" r="14.5"/><text class="bt" x="2892.500" y="1308" textLength="12" lengthAdjust="spacingAndGlyphs">TP</text>
</g>

<g id="connectors" class="cn">
<path class="rd" d="M374,1022V205H628"/>
<path class="bl" d="M627,1022V205H1383V318" marker-end="url(#mBl)"/>
<path class="rd d" d="M638,205H1383V304"/>
<path class="bl" d="M878,889H2063V849"/>
<path class="or d" d="M891.700,889H2063V876"/>
<path class="or" d="M878,879V889H886"/>
<path class="bl" d="M878,1022V850" marker-end="url(#mOr)"/>
<path class="or" d="M878,889V879"/>
<path class="bl" d="M2063,876V849" marker-end="url(#mOr)"/>
<path class="bl" d="M1132,1022V850" marker-end="url(#mOr)"/>
<path class="or" d="M1383,1022V889"/>
<path class="bl" d="M1383,889V555" marker-end="url(#mOr)"/>
<path class="or d" d="M1383,889V575"/>
<path class="or" d="M1633,1022V889"/>
<path class="bl" d="M1633,889V850" marker-end="url(#mOr)"/>
<path class="pu" d="M1885,1022V850" marker-end="url(#mPu)"/>
<path class="pu" d="M1885,984H1689V850" marker-end="url(#mPu)"/>
<path class="pu" d="M1885,984H2107.500V849" marker-end="url(#mPu)"/>
<path class="gr" d="M2135,1022V948"/>
<path class="gr" d="M2388,948H1943V850" marker-end="url(#mGr)"/>
<path class="gr" d="M2157.500,948V849" marker-end="url(#mGr)"/>
<path class="gr" d="M2388,1022V850" marker-end="url(#mGr)"/>
<path class="pk" d="M2894,1022V913H2207.500V849" marker-end="url(#mPk)"/>
<path class="gr" d="M2642,1022V950H2543V202H2138V322" marker-end="url(#mGr)"/>
<path class="bl" d="M625,1615V1272" marker-end="url(#mBl)"/>
<path class="gr" d="M2539,1771.500H2489" marker-end="url(#mGr)"/>
</g>

<g id="logo">
<ellipse cx="2786.700" cy="91.500" rx="43.500" ry="43" fill="#000"/>
<ellipse cx="2786.700" cy="91.500" rx="9.500" ry="9.500" fill="#fff"/>
<path d="M2754,129.500C2742,134 2737,143 2737,153C2737,166 2748,178 2766,184L2820,202C2829,206 2832,214 2816,222C2830,218 2837,210 2837,200C2837,184 2830,170 2818,165L2760,147C2746,142 2744,137 2754,129.500Z" fill="#000"/>
<text x="2604 2659 2717 2765 2811 2852 2886 2942" y="262.500" style="font-family:Lato,'Open Sans',sans-serif;font-size:48px;font-weight:700;fill:#000;text-anchor:start">GOBELINS</text>
<text x="2691 2713 2733 2755 2782 2809.500 2822 2845 2861" y="300" style="font-family:Lato,'Open Sans',sans-serif;font-size:26px;font-weight:400;fill:#000;text-anchor:start">— PARIS —</text>
</g>

<g id="emblem">
<path d="M2731.700,342.400Q2786,387 2840,343.700L2882.700,386.600L2785,483.500L2687.300,386.600Z" fill="url(#eHeart)"/>
<path d="M2854,382C2810,382 2778,415 2778,459L2838,459Q2839,444 2854.700,443Z" fill="none" stroke="#fbcf8f" stroke-width="2.500"/>
<path d="M2591.700,342.400H2644V399.500Q2640,360 2591.700,342.400Z" fill="url(#eCornerL)"/>
<path d="M2981.700,342.400H2929V399.500Q2933,360 2981.700,342.400Z" fill="url(#eCornerR)"/>
<path d="M2666.700,343.700H2686.700Q2685,361 2666.700,361.600Z" fill="none" stroke="#9c2362" stroke-width="2"/>
<path d="M2903.300,343.700H2884.300Q2886,361 2903.300,361.600Z" fill="none" stroke="#9c2362" stroke-width="2"/>
<circle cx="2596.300" cy="386" r="20" fill="none" stroke="#ac2560" stroke-width="2.500"/>
<circle cx="2975" cy="386" r="20" fill="none" stroke="#ac2560" stroke-width="2.500"/>
<path d="M2664,405L2704,444Q2690,454 2698,460Q2710,472 2727,466.500L2765,506Q2742,527 2712,527C2672,527 2644,495 2644,455C2644,435 2650,418 2664,405Z" fill="url(#eFanL)"/>
<path d="M2905,407L2866,445Q2880,455 2870,462Q2858,473 2843,469L2804,508Q2826,529 2857,529C2896,529 2926,497 2926,458C2926,438 2919,420 2905,407Z" fill="url(#eFanR)"/>
<path d="M2785,514.700L2801.700,531L2785,547L2769.300,530.400Z" fill="none" stroke="#9c2362" stroke-width="2.500"/>
<path d="M2760,531C2725,540 2702,570 2702,612C2702,630 2708,648 2716,658C2720,630 2730,605 2747,587C2732,583 2729,572 2729,562C2729,549 2745,538 2760,534Z" fill="url(#eCres)"/>
<path d="M2809,533C2840,542 2859,572 2859,612C2859,630 2852,648 2844,658C2840,630 2827,605 2809,584C2824,582 2832,572 2832,562C2832,549 2820,540 2809,536Z" fill="url(#eCres)"/>
<path d="M2779,598C2795,615 2802,640 2802,670L2753,670C2754,640 2763,615 2779,598Z" fill="url(#eFlame)"/>
</g>
</svg>
